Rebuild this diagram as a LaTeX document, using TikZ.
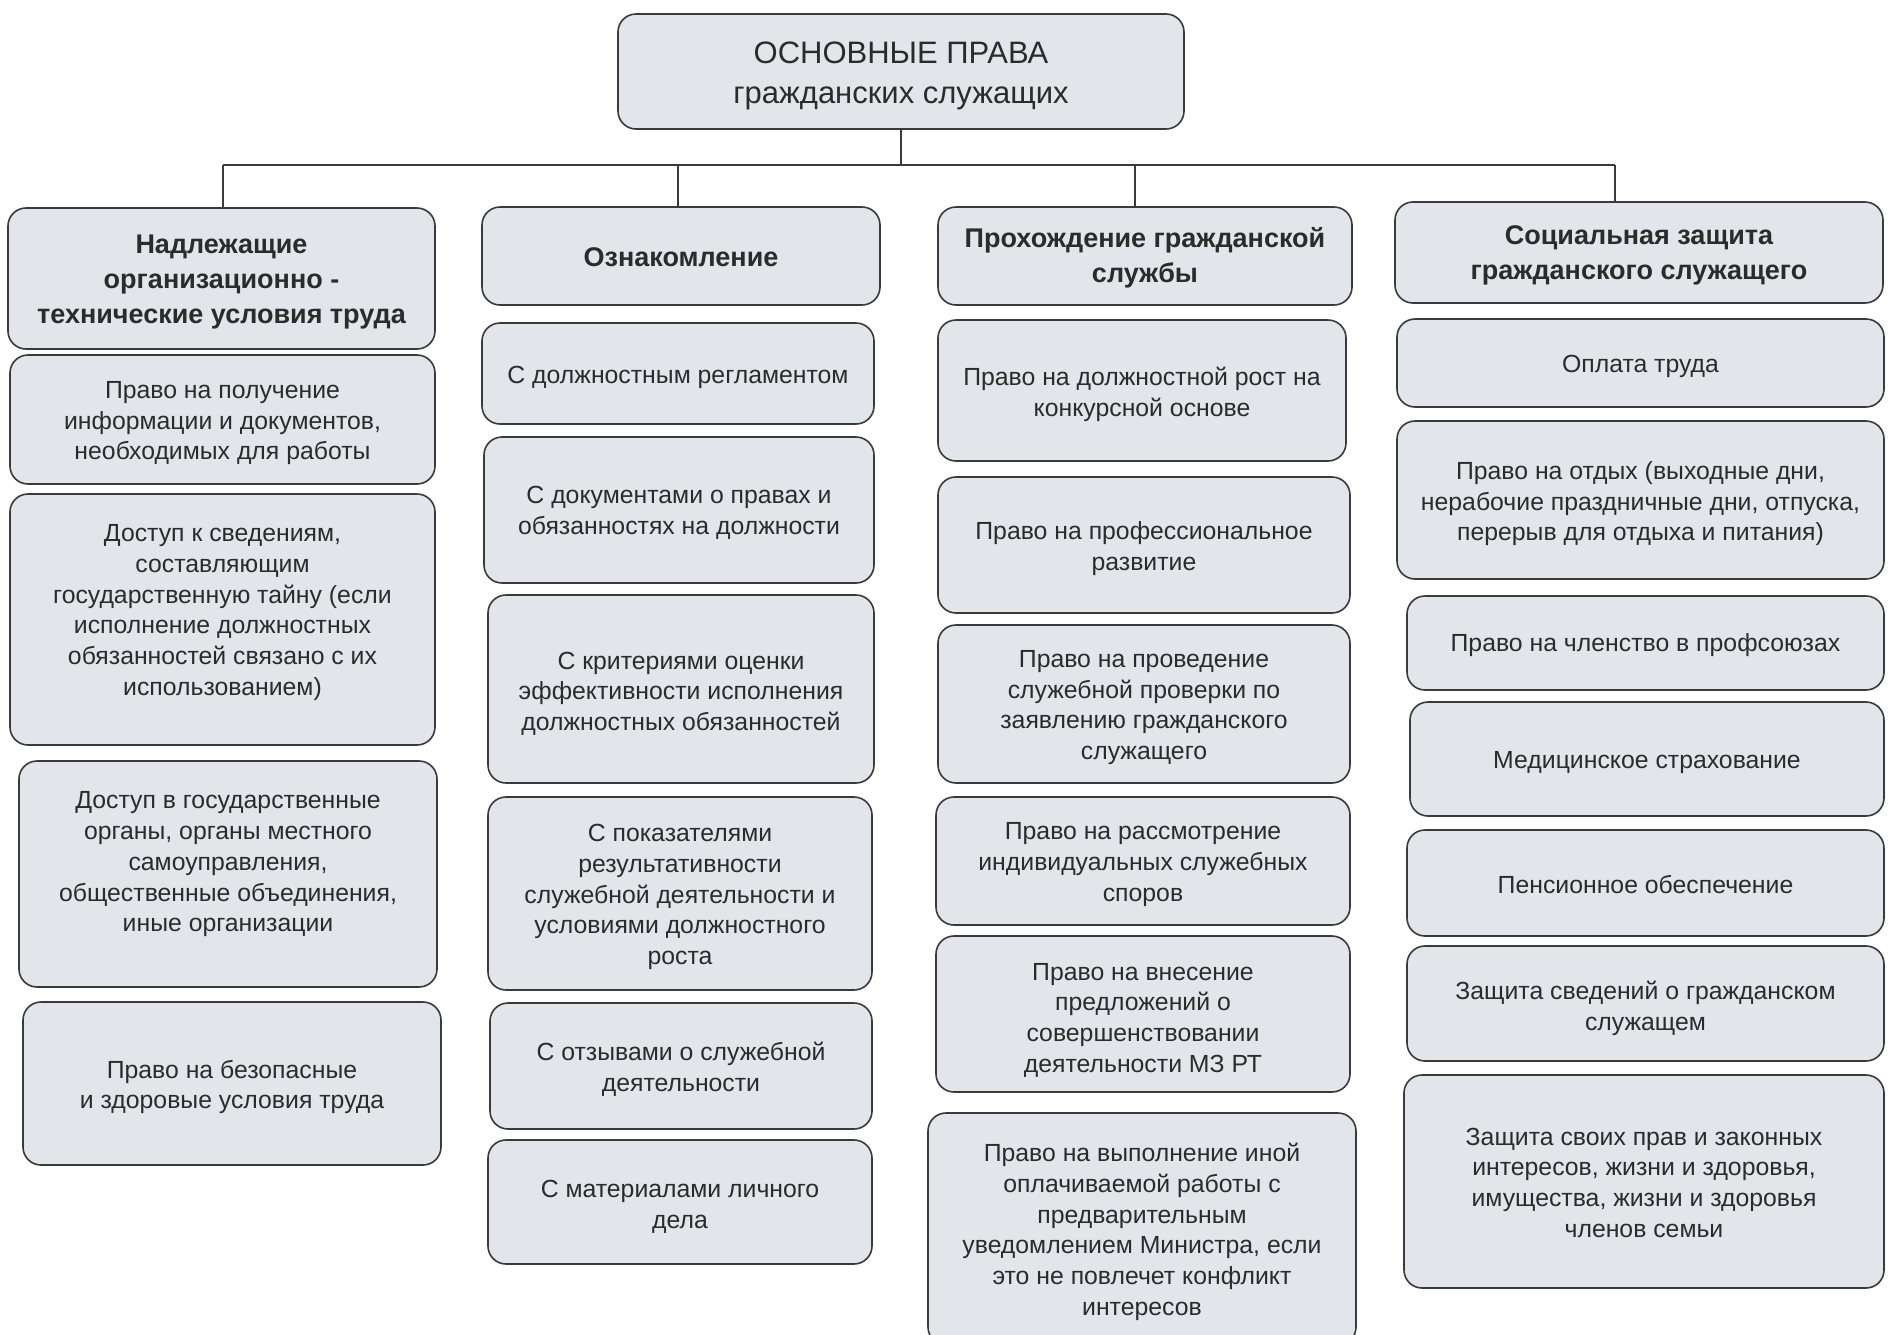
\documentclass[tikz,border=0pt]{standalone}
\usepackage{fontspec}
\setmainfont{Liberation Sans}
\definecolor{boxfill}{HTML}{E2E5EA}
\definecolor{boxline}{HTML}{3A3A3A}
\definecolor{txt}{HTML}{2B2B2B}
% #1 text style, #2 name, #3 x, #4 y, #5 width, #6 height, #7 text shift up (pt), #8 text
\newcommand{\rbx}[8]{%
  \node[rbox, minimum width=#5pt, minimum height=#6pt] (#2) at (#3,#4) {};
  \node[#1] (#2t) at ([yshift=#7pt]#2.center) {#8};}
\begin{document}
\begin{tikzpicture}[x=1pt,y=-1pt,
  rbox/.style={draw=boxline, fill=boxfill, line width=1.6pt, rounded corners=18pt, inner sep=0pt},
  btxt/.style={align=center, inner sep=0pt, text=txt, font=\fontsize{24.8}{30.7}\selectfont},
  htxt/.style={btxt, font=\bfseries\fontsize{27}{35}\selectfont},
  roottxt/.style={btxt, font=\fontsize{31}{40}\selectfont},
  conn/.style={draw=boxline, line width=1.5pt}]
\useasboundingbox[fill=white] (0,0) rectangle (1888,1334);
\begin{scope}
\clip (0,0) rectangle (1888,1334);
% root
\rbx{roottxt}{root}{901}{71.5}{566}{115}{-4.5}{ОСНОВНЫЕ ПРАВА\\гражданских служащих}
% headers
\rbx{htxt}{h1}{221.5}{278.5}{427}{141}{-3.5}{Надлежащие\\организационно -\\технические условия труда}
\rbx{htxt}{h2}{681}{256}{398}{98}{-1.2}{Ознакомление}
\rbx{htxt}{h3}{1145}{256}{414}{98}{-1.8}{Прохождение гражданской\\службы}
\rbx{htxt}{h4}{1639}{252.5}{488}{101}{-2.4}{Социальная защита\\гражданского служащего}
% connectors
\coordinate (k1) at (223,165);
\coordinate (k2) at (678,165);
\coordinate (k3) at (1135,165);
\coordinate (k4) at (1615,165);
\draw[conn] (root.south) -- (root.south |- k1);
\draw[conn] (k1) -- (k4);
\draw[conn] (k1) -- (k1 |- h1.north);
\draw[conn] (k2) -- (k2 |- h2.north);
\draw[conn] (k3) -- (k3 |- h3.north);
\draw[conn] (k4) -- (k4 |- h4.north);
% column 1
\rbx{btxt}{a1}{222.5}{419.5}{425}{129}{-3.6}{Право на получение\\информации и документов,\\необходимых для работы}
\rbx{btxt}{a2}{222.5}{619.5}{425}{251}{7}{Доступ к сведениям,\\составляющим\\государственную тайну (если\\исполнение должностных\\обязанностей связано с их\\использованием)}
\rbx{btxt}{a3}{228}{874}{418}{226}{9.6}{Доступ в государственные\\органы, органы местного\\самоуправления,\\общественные объединения,\\иные организации}
\rbx{btxt}{a4}{232}{1083.5}{418}{163}{-3.6}{Право на безопасные\\и здоровые условия труда}
% column 2
\rbx{btxt}{b1}{678}{373.5}{392}{101}{-3.6}{С должностным регламентом}
\rbx{btxt}{b2}{679}{510}{390}{146}{-3}{С документами о правах и\\обязанностях на должности}
\rbx{btxt}{b3}{681}{689}{386}{188}{-4.8}{С критериями оценки\\эффективности исполнения\\должностных обязанностей}
\rbx{btxt}{b4}{680}{893.5}{384}{193}{-3.6}{С показателями\\результативности\\служебной деятельности и\\условиями должностного\\роста}
\rbx{btxt}{b5}{681}{1066}{382}{126}{-3.6}{С отзывами о служебной\\деятельности}
\rbx{btxt}{b6}{680}{1202}{384}{124}{-5}{С материалами личного\\дела}
% column 3
\rbx{btxt}{c1}{1142}{390.5}{408}{141}{-3.6}{Право на должностной рост на\\конкурсной основе}
\rbx{btxt}{c2}{1144}{545}{412}{136}{-3.6}{Право на профессиональное\\развитие}
\rbx{btxt}{c3}{1144}{704}{412}{158}{-3.6}{Право на проведение\\служебной проверки по\\заявлению гражданского\\служащего}
\rbx{btxt}{c4}{1143}{861}{414}{128}{-3.6}{Право на рассмотрение\\индивидуальных служебных\\споров}
\rbx{btxt}{c5}{1143}{1014}{414}{156}{-6}{Право на внесение\\предложений о\\совершенствовании\\деятельности МЗ РТ}
\rbx{btxt}{c6}{1142}{1229}{428}{232}{-3}{Право на выполнение иной\\оплачиваемой работы с\\предварительным\\уведомлением Министра, если\\это не повлечет конфликт\\интересов}
% column 4
\rbx{btxt}{d1}{1640.5}{363}{487}{88}{-3.6}{Оплата труда}
\rbx{btxt}{d2}{1640.5}{500}{487}{158}{-3.6}{Право на отдых (выходные дни,\\нерабочие праздничные дни, отпуска,\\перерыв для отдыха и питания)}
\rbx{btxt}{d3}{1645.5}{643}{477}{94}{-2.4}{Право на членство в профсоюзах}
\rbx{btxt}{d4}{1647}{759}{474}{114}{-3.6}{Медицинское страхование}
\rbx{btxt}{d5}{1645.5}{883}{477}{106}{-1.2}{Пенсионное обеспечение}
\rbx{btxt}{d6}{1645.5}{1003.5}{477}{115}{-4.8}{Защита сведений о гражданском\\служащем}
\rbx{btxt}{d7}{1644}{1181.5}{480}{213}{-1.2}{Защита своих прав и законных\\интересов, жизни и здоровья,\\имущества, жизни и здоровья\\членов семьи}
\end{scope}
\end{tikzpicture}
\end{document}
